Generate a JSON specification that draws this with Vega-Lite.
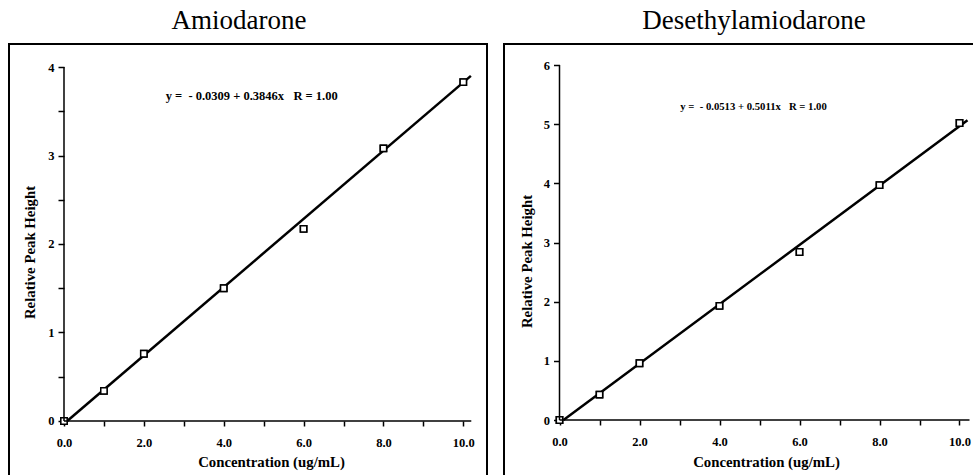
{
  "$schema": "https://vega.github.io/schema/vega-lite/v6.json",
  "background": "white",
  "padding": {"left": 8, "top": 6, "right": 0, "bottom": 0},
  "spacing": 15,
  "config": {
    "view": {"stroke": "black", "strokeWidth": 2},
    "axis": {
      "domain": false, "grid": false, "ticks": true, "tickColor": "black", "tickWidth": 1.5,
      "labelFont": "Liberation Serif", "labelFontWeight": "bold", "labelFontSize": 12.5, "labelColor": "black",
      "titleFont": "Liberation Serif", "titleFontWeight": "bold", "titleFontSize": 14.8, "titleColor": "black",
      "labelOverlap": false, "labelBound": false, "labelFlush": false
    },
    "title": {"font": "Liberation Serif", "fontSize": 27, "fontWeight": "normal", "color": "black", "baseline": "alphabetic", "offset": 9}
  },
  "datasets": {
    "amio_pts": [
      {"conc": 0, "height": 0}, {"conc": 1, "height": 0.34}, {"conc": 2, "height": 0.76},
      {"conc": 4, "height": 1.5}, {"conc": 6, "height": 2.17}, {"conc": 8, "height": 3.08},
      {"conc": 10, "height": 3.83}
    ],
    "amio_fit": [{"conc": 0.08, "height": 0}, {"conc": 10.19, "height": 3.9}],
    "des_pts": [
      {"conc": 0, "height": 0}, {"conc": 1, "height": 0.43}, {"conc": 2, "height": 0.96},
      {"conc": 4, "height": 1.93}, {"conc": 6, "height": 2.84}, {"conc": 8, "height": 3.97},
      {"conc": 10, "height": 5.02}
    ],
    "des_fit": [{"conc": 0.1, "height": 0}, {"conc": 10.2, "height": 5.065}],
    "one": [{}]
  },
  "hconcat": [
    {
      "width": 478, "height": 433,
      "title": {"text": "Amiodarone", "dx": -9},
      "layer": [
        {
          "data": {"name": "amio_pts"},
          "mark": {"type": "point", "shape": "square", "filled": true, "fill": "white", "stroke": "black", "strokeWidth": 1.5, "size": 40, "opacity": 1},
          "encoding": {
            "x": {"field": "conc", "type": "quantitative",
              "scale": {"domain": [-1.3774, 10.5935], "nice": false, "zero": false},
              "axis": {"title": "Concentration (ug/mL)", "orient": "bottom", "offset": -56,
                "values": [0, 1, 2, 3, 4, 5, 6, 7, 8, 9, 10],
                "labelExpr": "datum.value % 2 == 0 ? format(datum.value, '.1f') : ''",
                "labelFont": "Liberation Serif", "labelFontWeight": "bold", "labelFontSize": 12.5,
                "titleFont": "Liberation Serif", "titleFontWeight": "bold", "titleFontSize": 14.8,
                "tickSize": 5, "labelPadding": 10, "titleX": 262, "titleY": 45, "titleBaseline": "alphabetic"}},
            "y": {"field": "height", "type": "quantitative",
              "scale": {"domain": [-0.633, 4.26], "nice": false, "zero": false},
              "axis": {"title": "Relative Peak Height", "orient": "left", "offset": -55,
                "values": [0, 0.5, 1, 1.5, 2, 2.5, 3, 3.5, 4],
                "labelExpr": "datum.value % 1 == 0 ? format(datum.value, 'd') : ''",
                "labelFont": "Liberation Serif", "labelFontWeight": "bold", "labelFontSize": 12.5,
                "titleFont": "Liberation Serif", "titleFontWeight": "bold", "titleFontSize": 14.8,
                "tickSize": 6, "labelPadding": 4, "titleX": -34, "titleY": 208, "titleAngle": -90,
                "titleBaseline": "middle", "titleAlign": "center"}}
          }
        },
        {
          "data": {"name": "amio_fit"},
          "mark": {"type": "line", "color": "black", "strokeWidth": 2.5},
          "encoding": {
            "x": {"field": "conc", "type": "quantitative"},
            "y": {"field": "height", "type": "quantitative"}
          }
        },
        {
          "data": {"name": "amio_pts"},
          "mark": {"type": "point", "shape": "square", "filled": true, "fill": "white", "stroke": "black", "strokeWidth": 1.5, "size": 40, "opacity": 1},
          "encoding": {
            "x": {"field": "conc", "type": "quantitative"},
            "y": {"field": "height", "type": "quantitative"}
          }
        },
        {
          "data": {"name": "one"},
          "mark": {"type": "rule", "color": "black", "strokeWidth": 1.5},
          "encoding": {
            "x": {"datum": 0, "type": "quantitative"},
            "x2": {"datum": 10.2},
            "y": {"datum": 0, "type": "quantitative"}
          }
        },
        {
          "data": {"name": "one"},
          "mark": {"type": "rule", "color": "black", "strokeWidth": 1.5},
          "encoding": {
            "x": {"datum": 0, "type": "quantitative"},
            "y": {"datum": 0, "type": "quantitative"},
            "y2": {"datum": 4}
          }
        },
        {
          "data": {"name": "one"},
          "mark": {"type": "text", "text": "y =\u00a0\u00a0- 0.0309 + 0.3846x\u00a0\u00a0\u00a0R = 1.00", "font": "Liberation Serif", "fontWeight": "bold", "fontSize": 12.5, "color": "black", "align": "center", "baseline": "middle"},
          "encoding": {
            "x": {"datum": 4.7, "type": "quantitative"},
            "y": {"datum": 3.672, "type": "quantitative"}
          }
        }
      ]
    },
    {
      "width": 490, "height": 433,
      "title": {"text": "Desethylamiodarone", "dx": 5},
      "layer": [
        {
          "data": {"name": "des_pts"},
          "mark": {"type": "point", "shape": "square", "filled": true, "fill": "white", "stroke": "black", "strokeWidth": 1.5, "size": 40, "opacity": 1},
          "encoding": {
            "x": {"field": "conc", "type": "quantitative",
              "scale": {"domain": [-1.3875, 10.8625], "nice": false, "zero": false},
              "axis": {"title": "Concentration (ug/mL)", "orient": "bottom", "offset": -57,
                "values": [0, 1, 2, 3, 4, 5, 6, 7, 8, 9, 10],
                "labelExpr": "datum.value % 2 == 0 ? format(datum.value, '.1f') : ''",
                "labelFont": "Liberation Serif", "labelFontWeight": "bold", "labelFontSize": 12.5,
                "titleFont": "Liberation Serif", "titleFontWeight": "bold", "titleFontSize": 14.8,
                "tickSize": 5, "labelPadding": 10, "titleX": 262, "titleY": 46, "titleBaseline": "alphabetic"}},
            "y": {"field": "height", "type": "quantitative",
              "scale": {"domain": [-0.963, 6.355], "nice": false, "zero": false},
              "axis": {"title": "Relative Peak Height", "orient": "left", "offset": -55.5,
                "values": [0, 0.5, 1, 1.5, 2, 2.5, 3, 3.5, 4, 4.5, 5, 5.5, 6],
                "labelExpr": "datum.value % 1 == 0 ? format(datum.value, 'd') : ''",
                "labelFont": "Liberation Serif", "labelFontWeight": "bold", "labelFontSize": 12.5,
                "titleFont": "Liberation Serif", "titleFontWeight": "bold", "titleFontSize": 14.8,
                "tickSize": 6, "labelPadding": 4, "titleX": -32.5, "titleY": 217, "titleAngle": -90,
                "titleBaseline": "middle", "titleAlign": "center"}}
          }
        },
        {
          "data": {"name": "des_fit"},
          "mark": {"type": "line", "color": "black", "strokeWidth": 2.5},
          "encoding": {
            "x": {"field": "conc", "type": "quantitative"},
            "y": {"field": "height", "type": "quantitative"}
          }
        },
        {
          "data": {"name": "des_pts"},
          "mark": {"type": "point", "shape": "square", "filled": true, "fill": "white", "stroke": "black", "strokeWidth": 1.5, "size": 40, "opacity": 1},
          "encoding": {
            "x": {"field": "conc", "type": "quantitative"},
            "y": {"field": "height", "type": "quantitative"}
          }
        },
        {
          "data": {"name": "one"},
          "mark": {"type": "rule", "color": "black", "strokeWidth": 1.5},
          "encoding": {
            "x": {"datum": 0, "type": "quantitative"},
            "x2": {"datum": 10.25},
            "y": {"datum": 0, "type": "quantitative"}
          }
        },
        {
          "data": {"name": "one"},
          "mark": {"type": "rule", "color": "black", "strokeWidth": 1.5},
          "encoding": {
            "x": {"datum": 0, "type": "quantitative"},
            "y": {"datum": 0, "type": "quantitative"},
            "y2": {"datum": 6}
          }
        },
        {
          "data": {"name": "one"},
          "mark": {"type": "text", "text": "y =\u00a0\u00a0- 0.0513 + 0.5011x\u00a0\u00a0\u00a0R = 1.00", "font": "Liberation Serif", "fontWeight": "bold", "fontSize": 10.7, "color": "black", "align": "center", "baseline": "middle"},
          "encoding": {
            "x": {"datum": 4.85, "type": "quantitative"},
            "y": {"datum": 5.295, "type": "quantitative"}
          }
        }
      ]
    }
  ]
}
